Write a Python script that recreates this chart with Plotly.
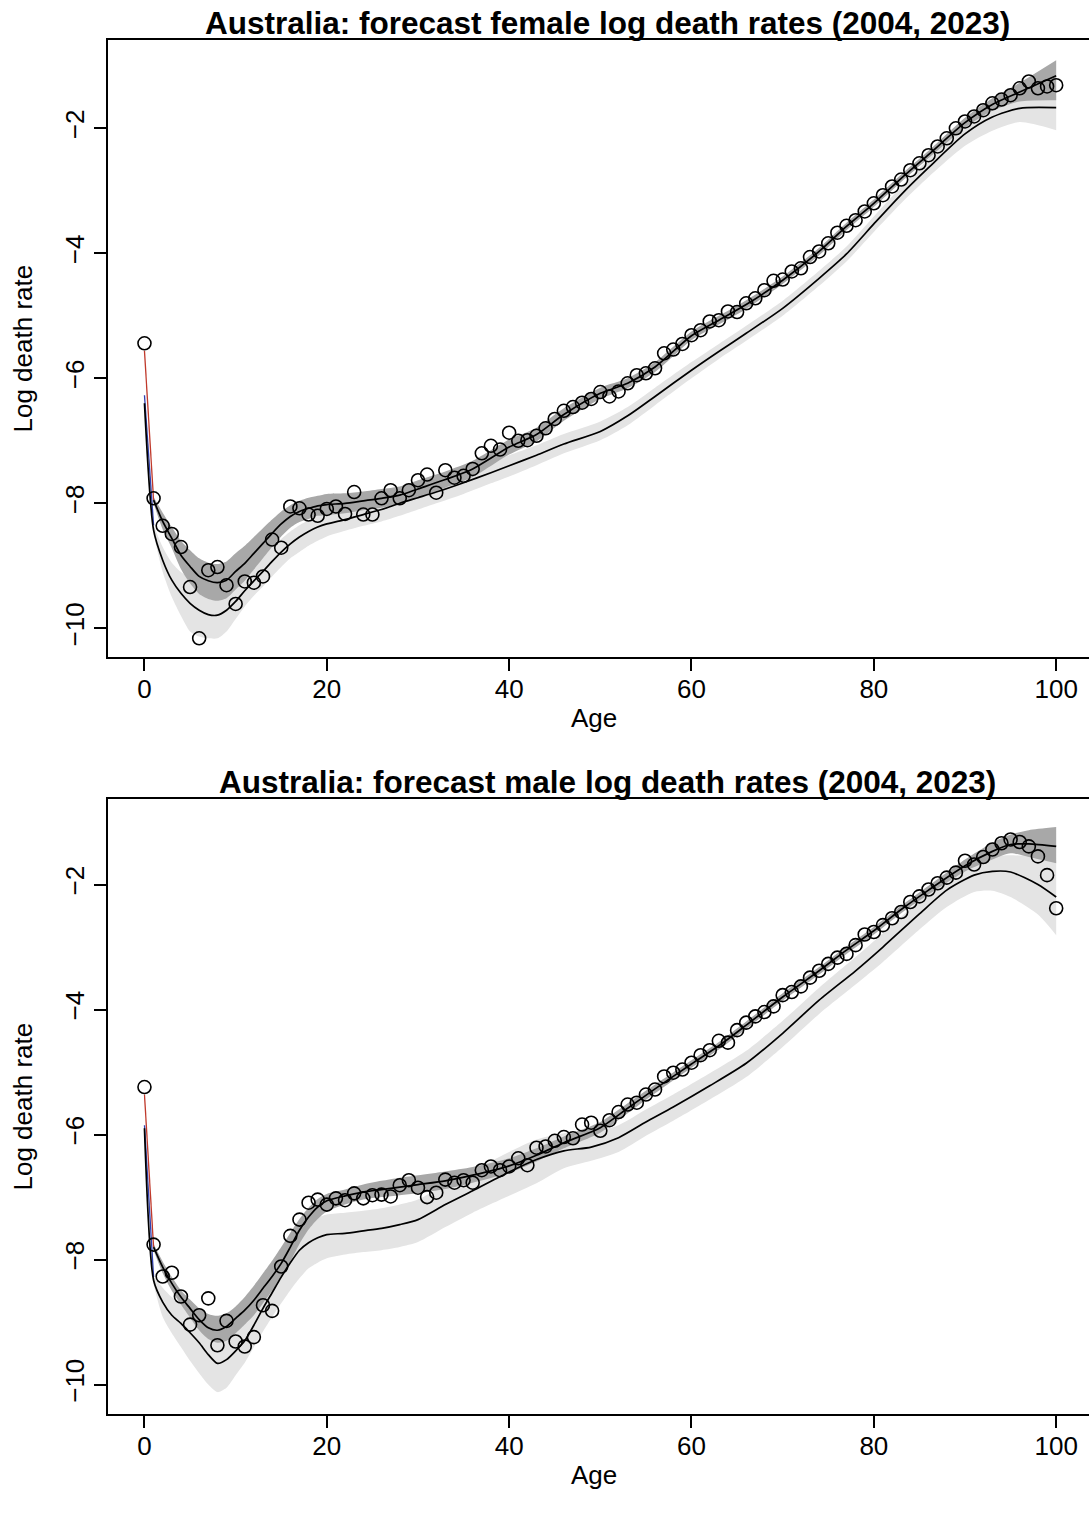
import plotly.graph_objects as go

W, H = 1089, 1517
ages = list(range(101))

# ---------------- observed log death rates (2023) ----------------
female_obs = [-5.44, -7.92, -8.36, -8.49, -8.70, -9.34, -10.16, -9.07, -9.02, -9.31,
              -9.61, -9.25, -9.27, -9.17, -8.58, -8.71, -8.05, -8.08, -8.18, -8.20,
              -8.09, -8.05, -8.17, -7.82, -8.18, -8.18, -7.92, -7.79, -7.92, -7.79,
              -7.63, -7.54, -7.83, -7.47, -7.59, -7.56, -7.45, -7.20, -7.08, -7.14,
              -6.87, -7.00, -6.99, -6.92, -6.80, -6.65, -6.52, -6.46, -6.39, -6.33,
              -6.22, -6.29, -6.21, -6.08, -5.95, -5.92, -5.84, -5.60, -5.54, -5.45,
              -5.31, -5.23, -5.09, -5.07, -4.93, -4.94, -4.80, -4.72, -4.59, -4.44,
              -4.42, -4.29, -4.24, -4.06, -3.97, -3.84, -3.67, -3.56, -3.47, -3.33,
              -3.20, -3.07, -2.93, -2.82, -2.67, -2.56, -2.43, -2.29, -2.16, -2.00,
              -1.89, -1.81, -1.71, -1.60, -1.54, -1.47, -1.36, -1.25, -1.36, -1.33,
              -1.31]
male_obs = [-5.24, -7.76, -8.27, -8.21, -8.59, -9.04, -8.89, -8.62, -9.37, -8.98,
            -9.31, -9.39, -9.24, -8.73, -8.82, -8.11, -7.62, -7.36, -7.09, -7.04,
            -7.12, -7.02, -7.05, -6.94, -7.02, -6.97, -6.96, -6.99, -6.81, -6.73,
            -6.85, -7.00, -6.93, -6.72, -6.77, -6.73, -6.77, -6.57, -6.51, -6.57,
            -6.51, -6.38, -6.49, -6.21, -6.19, -6.10, -6.04, -6.06, -5.84, -5.81,
            -5.94, -5.77, -5.64, -5.52, -5.49, -5.36, -5.28, -5.07, -5.01, -4.96,
            -4.85, -4.73, -4.65, -4.50, -4.53, -4.33, -4.21, -4.11, -4.04, -3.95,
            -3.77, -3.72, -3.63, -3.49, -3.38, -3.27, -3.17, -3.11, -2.97, -2.80,
            -2.76, -2.65, -2.54, -2.44, -2.28, -2.19, -2.08, -1.98, -1.89, -1.81,
            -1.62, -1.68, -1.56, -1.44, -1.34, -1.28, -1.32, -1.39, -1.55, -1.85,
            -2.38]

# ---------------- female: fitted curve (2023) with dark band ----------------
f_fit_age = list(range(1, 21)) + [22, 24, 26, 28, 30, 33, 36, 40, 43, 46, 50, 53, 56,
                                  60, 63, 66, 70, 74, 77, 80, 83, 86, 90, 93, 96, 100]
f_fit = [-7.95, -8.29, -8.56, -8.83, -9.01, -9.17, -9.24, -9.27, -9.23, -9.09,
         -8.96, -8.80, -8.64, -8.48, -8.33, -8.21, -8.13, -8.08, -8.04, -8.02,
         -8.00, -7.96, -7.92, -7.87, -7.77, -7.62, -7.45, -7.10, -6.90, -6.58,
         -6.24, -6.08, -5.82, -5.32, -5.07, -4.82, -4.43, -3.97, -3.57, -3.20,
         -2.80, -2.42, -1.91, -1.62, -1.42, -1.16]
f_fit_hi = [-7.90, -8.15, -8.38, -8.60, -8.75, -8.88, -8.95, -8.97, -8.93, -8.80,
            -8.68, -8.54, -8.40, -8.26, -8.13, -8.03, -7.96, -7.91, -7.88, -7.85,
            -7.84, -7.81, -7.77, -7.73, -7.63, -7.49, -7.32, -6.98, -6.79, -6.48,
            -6.15, -6.00, -5.74, -5.25, -5.00, -4.75, -4.37, -3.91, -3.51, -3.14,
            -2.74, -2.36, -1.83, -1.52, -1.27, -0.91]
f_fit_lo = [-8.00, -8.42, -8.72, -9.05, -9.28, -9.45, -9.53, -9.56, -9.52, -9.38,
            -9.24, -9.06, -8.88, -8.70, -8.53, -8.39, -8.30, -8.25, -8.20, -8.19,
            -8.16, -8.11, -8.07, -8.01, -7.91, -7.75, -7.58, -7.22, -7.01, -6.68,
            -6.33, -6.16, -5.90, -5.39, -5.14, -4.89, -4.49, -4.03, -3.63, -3.26,
            -2.86, -2.48, -1.99, -1.72, -1.57, -1.55]

# ---------------- female: forecast curve (2004) with light band ----------------
f_fc_age = [0] + list(range(1, 21)) + [22, 24, 26, 28, 30, 32, 35, 38, 40, 43, 46, 50,
                                       53, 56, 60, 63, 66, 70, 74, 77, 80, 83, 86, 90,
                                       93, 96, 100]
f_fc = [-6.40, -8.43, -8.91, -9.23, -9.44, -9.60, -9.71, -9.78, -9.79, -9.71,
        -9.57, -9.40, -9.24, -9.09, -8.93, -8.78, -8.65, -8.54, -8.45, -8.38,
        -8.33, -8.26, -8.18, -8.10, -8.00, -7.91, -7.82, -7.67, -7.51, -7.40,
        -7.23, -7.05, -6.85, -6.60, -6.29, -5.87, -5.57, -5.28, -4.88, -4.40,
        -4.01, -3.53, -3.06, -2.63, -2.09, -1.82, -1.68, -1.67]
f_band_age = f_fc_age[1:]
f_fc_hi = [-8.35, -8.70, -8.95, -9.10, -9.20, -9.30, -9.40, -9.45, -9.40, -9.30,
           -9.15, -9.00, -8.85, -8.70, -8.57, -8.45, -8.35, -8.27, -8.20, -8.15,
           -8.06, -8.00, -7.93, -7.83, -7.74, -7.65, -7.50, -7.34, -7.23, -7.07,
           -6.89, -6.69, -6.46, -6.15, -5.74, -5.45, -5.16, -4.76, -4.28, -3.89,
           -3.41, -2.93, -2.49, -1.93, -1.66, -1.53, -1.47]
f_fc_lo = [-8.50, -9.10, -9.50, -9.80, -10.05, -10.13, -10.16, -10.16, -10.05, -9.85,
           -9.65, -9.48, -9.33, -9.17, -9.02, -8.88, -8.78, -8.68, -8.60, -8.53,
           -8.44, -8.36, -8.29, -8.20, -8.10, -8.00, -7.85, -7.68, -7.57, -7.39,
           -7.20, -6.99, -6.75, -6.43, -6.00, -5.69, -5.40, -5.00, -4.52, -4.13,
           -3.66, -3.20, -2.78, -2.28, -2.04, -1.90, -2.03]

# ---------------- male: fitted curve (2023) with dark band ----------------
m_fit_age = list(range(1, 21)) + [22, 24, 26, 28, 30, 33, 36, 40, 43, 46, 50, 53, 56,
                                  60, 63, 66, 70, 74, 77, 80, 83, 86, 90, 93, 95, 97, 100]
m_fit = [-7.80, -8.12, -8.38, -8.60, -8.78, -8.96, -9.09, -9.13, -9.07, -8.94,
         -8.81, -8.65, -8.46, -8.27, -8.06, -7.80, -7.53, -7.32, -7.16, -7.06,
         -6.98, -6.92, -6.88, -6.84, -6.80, -6.74, -6.65, -6.50, -6.33, -6.13,
         -5.89, -5.58, -5.27, -4.87, -4.58, -4.25, -3.80, -3.38, -3.05, -2.74,
         -2.40, -2.09, -1.70, -1.47, -1.36, -1.35, -1.39]
m_fit_hi = [-7.75, -8.03, -8.28, -8.49, -8.64, -8.78, -8.87, -8.90, -8.86, -8.75,
            -8.60, -8.42, -8.22, -8.02, -7.80, -7.57, -7.35, -7.17, -7.03, -6.95,
            -6.88, -6.80, -6.74, -6.69, -6.65, -6.59, -6.52, -6.38, -6.22, -6.03,
            -5.80, -5.50, -5.20, -4.81, -4.52, -4.19, -3.74, -3.32, -2.99, -2.68,
            -2.34, -2.02, -1.60, -1.33, -1.20, -1.13, -1.08]
m_fit_lo = [-7.85, -8.22, -8.50, -8.72, -8.93, -9.13, -9.27, -9.33, -9.30, -9.18,
            -9.04, -8.89, -8.70, -8.50, -8.28, -8.03, -7.75, -7.52, -7.35, -7.23,
            -7.12, -7.04, -7.00, -6.97, -6.94, -6.87, -6.77, -6.61, -6.43, -6.22,
            -5.97, -5.66, -5.34, -4.93, -4.64, -4.31, -3.86, -3.44, -3.11, -2.80,
            -2.46, -2.16, -1.79, -1.60, -1.50, -1.56, -1.66]

# ---------------- male: forecast curve (2004) with light band ----------------
m_fc_age = [0] + list(range(1, 21)) + [22, 24, 26, 28, 30, 33, 36, 40, 43, 46, 49, 52,
                                       55, 58, 62, 66, 70, 74, 78, 81, 85, 88, 91, 93,
                                       95, 98, 100]
m_fc = [-5.90, -8.33, -8.68, -8.89, -9.02, -9.17, -9.33, -9.52, -9.66, -9.60,
        -9.46, -9.30, -9.05, -8.78, -8.53, -8.28, -8.05, -7.85, -7.73, -7.65,
        -7.60, -7.58, -7.54, -7.50, -7.44, -7.36, -7.12, -6.90, -6.60, -6.40,
        -6.26, -6.20, -6.05, -5.80, -5.56, -5.22, -4.86, -4.38, -3.85, -3.38,
        -3.00, -2.47, -2.09, -1.85, -1.79, -1.80, -2.00, -2.20]
m_band_age = m_fc_age[1:]
m_fc_hi = [-8.28, -8.45, -8.60, -8.70, -8.80, -8.90, -9.05, -9.20, -9.20, -9.10,
           -8.95, -8.75, -8.50, -8.25, -8.00, -7.75, -7.55, -7.42, -7.33, -7.28,
           -7.25, -7.22, -7.18, -7.12, -7.04, -6.80, -6.58, -6.28, -6.08, -5.98,
           -5.96, -5.85, -5.60, -5.36, -5.02, -4.66, -4.18, -3.65, -3.16, -2.78,
           -2.25, -1.87, -1.62, -1.55, -1.53, -1.56, -1.62]
m_fc_lo = [-8.40, -8.92, -9.18, -9.40, -9.62, -9.82, -10.00, -10.12, -10.05, -9.85,
           -9.65, -9.40, -9.15, -8.92, -8.70, -8.49, -8.30, -8.14, -8.05, -7.98,
           -7.92, -7.88, -7.85, -7.80, -7.72, -7.48, -7.25, -6.98, -6.78, -6.54,
           -6.42, -6.28, -6.02, -5.78, -5.44, -5.08, -4.60, -4.07, -3.60, -3.24,
           -2.72, -2.36, -2.12, -2.10, -2.20, -2.48, -2.81]

# short coloured segments at infant ages (first-year curves)
seg_age = [0, 1]
f_red = [-5.56, -7.95]
f_blue = [-6.27, -8.35]
m_red = [-5.36, -7.80]
m_blue = [-5.85, -8.28]

titles = ["Australia: forecast female log death rates (2004, 2023)",
          "Australia: forecast male log death rates (2004, 2023)"]
x_ticks = [0, 20, 40, 60, 80, 100]
y_ticks = [-10, -8, -6, -4, -2]

DARK = "#a8a8a8"
LIGHT = "#e4e4e4"
FONT = "Liberation Sans, Arial, Helvetica, sans-serif"

fig = go.Figure()

panels = [
    dict(xa="x", ya="y", obs=female_obs,
         fit=(f_fit_age, f_fit, f_fit_hi, f_fit_lo),
         fc=(f_fc_age, f_fc, f_band_age, f_fc_hi, f_fc_lo),
         red=f_red, blue=f_blue),
    dict(xa="x2", ya="y2", obs=male_obs,
         fit=(m_fit_age, m_fit, m_fit_hi, m_fit_lo),
         fc=(m_fc_age, m_fc, m_band_age, m_fc_hi, m_fc_lo),
         red=m_red, blue=m_blue),
]

spl = dict(shape="spline", smoothing=0.7)
for p in panels:
    xa, ya = p["xa"], p["ya"]
    fa, fv, fhi, flo = p["fit"]
    ca, cv, ba, chi, clo = p["fc"]
    # light band (forecast)
    fig.add_trace(go.Scatter(x=ba, y=clo, mode="lines", line=dict(width=0, color=LIGHT, **spl),
                             xaxis=xa, yaxis=ya, hoverinfo="skip"))
    fig.add_trace(go.Scatter(x=ba, y=chi, mode="lines", line=dict(width=0, color=LIGHT, **spl),
                             fill="tonexty", fillcolor=LIGHT, xaxis=xa, yaxis=ya, hoverinfo="skip"))
    # dark band (fit)
    fig.add_trace(go.Scatter(x=fa, y=flo, mode="lines", line=dict(width=0, color=DARK, **spl),
                             xaxis=xa, yaxis=ya, hoverinfo="skip"))
    fig.add_trace(go.Scatter(x=fa, y=fhi, mode="lines", line=dict(width=0, color=DARK, **spl),
                             fill="tonexty", fillcolor=DARK, xaxis=xa, yaxis=ya, hoverinfo="skip"))
    # infant coloured segments
    fig.add_trace(go.Scatter(x=seg_age, y=p["red"], mode="lines", line=dict(width=1.3, color="#c0392b"),
                             xaxis=xa, yaxis=ya))
    fig.add_trace(go.Scatter(x=seg_age, y=p["blue"], mode="lines", line=dict(width=1.3, color="#3040b0"),
                             xaxis=xa, yaxis=ya))
    # black curves
    fig.add_trace(go.Scatter(x=ca, y=cv, mode="lines", line=dict(width=1.7, color="black", **spl),
                             xaxis=xa, yaxis=ya))
    fig.add_trace(go.Scatter(x=fa, y=fv, mode="lines", line=dict(width=1.7, color="black", **spl),
                             xaxis=xa, yaxis=ya))
    # observed points
    fig.add_trace(go.Scatter(x=ages, y=p["obs"], mode="markers",
                             marker=dict(symbol="circle-open", size=13, color="black",
                                         line=dict(width=1.6, color="black")),
                             xaxis=xa, yaxis=ya))

def py2paper(py):
    return 1 - py / H

# panel pixel boxes (top, bottom)
boxes = [(40, 657), (799, 1414)]
yranges = [[-10.459, -0.587], [-10.47, -0.632]]

axis_common = dict(showgrid=False, zeroline=False, showline=True, linecolor="black",
                   linewidth=1.8, ticks="outside", ticklen=12, tickwidth=1.8,
                   tickcolor="black", tickfont=dict(family=FONT, size=26, color="black"))

fig.update_layout(
    width=W, height=H,
    margin=dict(l=108, r=0, t=0, b=0),
    plot_bgcolor="white", paper_bgcolor="white",
    showlegend=False,
    font=dict(family=FONT, size=26, color="black"),
    xaxis=dict(domain=[0, 1], range=[-4, 103.6], tickvals=x_ticks, mirror=True,
               anchor="y", ticklabelstandoff=-4, **axis_common),
    yaxis=dict(domain=[py2paper(boxes[0][1]), py2paper(boxes[0][0])], range=yranges[0],
               tickvals=y_ticks, tickangle=-90, anchor="x", **axis_common),
    xaxis2=dict(domain=[0, 1], range=[-4, 103.6], tickvals=x_ticks, mirror=True,
                anchor="y2", ticklabelstandoff=-4, **axis_common),
    yaxis2=dict(domain=[py2paper(boxes[1][1]), py2paper(boxes[1][0])], range=yranges[1],
                tickvals=y_ticks, tickangle=-90, anchor="x2", **axis_common),
)

def px2paperx(px):
    return (px - 108) / (W - 108)

ann = []
for i, (top, bot) in enumerate(boxes):
    ann.append(dict(text="<b>" + titles[i] + "</b>", x=px2paperx(607), y=py2paper(top - 17),
                    xref="paper", yref="paper", xanchor="center", yanchor="middle",
                    showarrow=False, font=dict(family=FONT, size=31.5, color="black")))
    ann.append(dict(text="Age", x=px2paperx(594), y=py2paper(bot + 61),
                    xref="paper", yref="paper", xanchor="center", yanchor="middle",
                    showarrow=False, font=dict(family=FONT, size=26, color="black")))
    ann.append(dict(text="Log death rate", x=px2paperx(22), y=py2paper((top + bot) / 2),
                    xref="paper", yref="paper", xanchor="center", yanchor="middle",
                    textangle=-90, showarrow=False,
                    font=dict(family=FONT, size=26, color="black")))
fig.update_layout(annotations=ann)

fig.write_html("out.html", config={"displayModeBar": False},
               post_script="document.body.style.margin='0px';document.body.style.padding='0px';")
